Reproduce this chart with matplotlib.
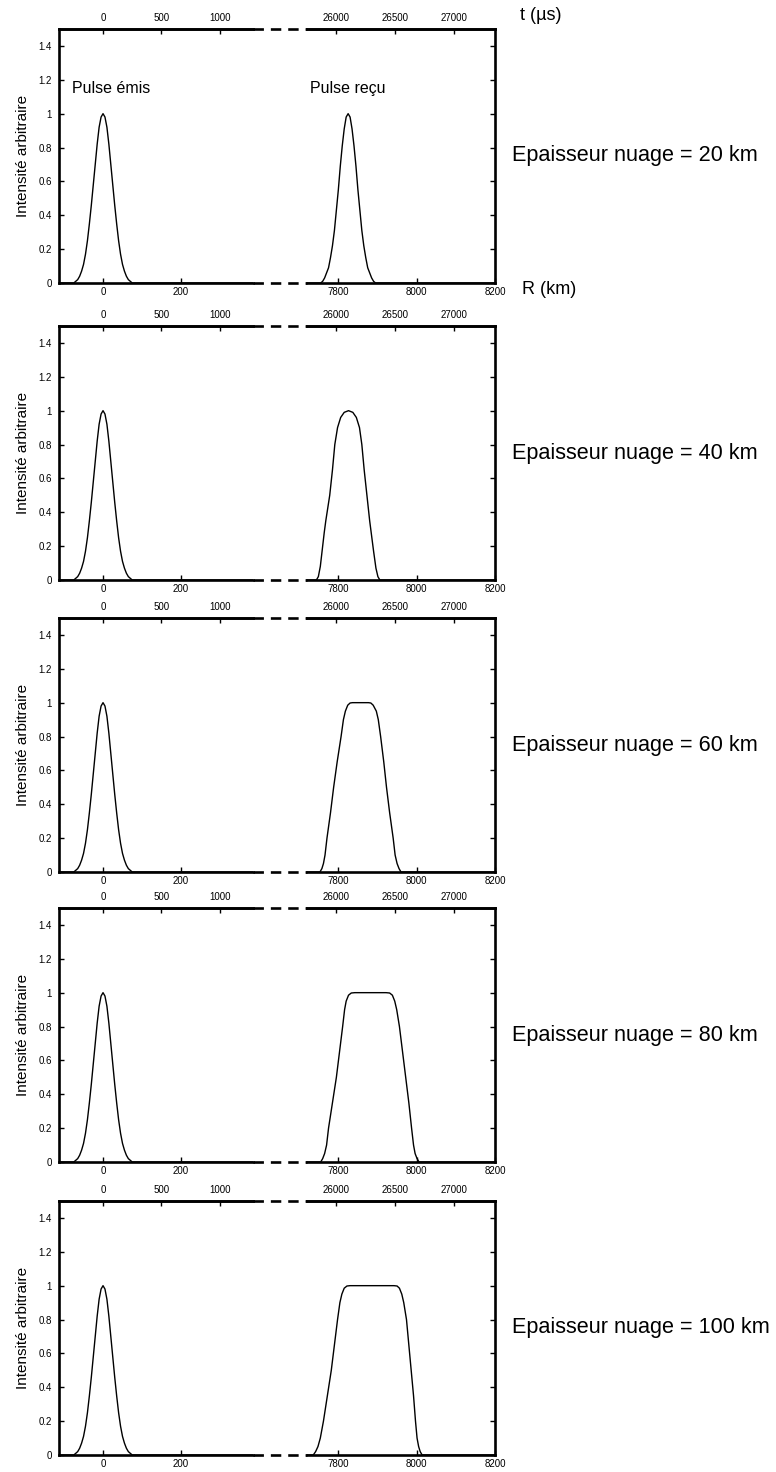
import numpy as np
import matplotlib
matplotlib.use("Agg")
from matplotlib import pyplot as plt
from matplotlib import font_manager
from matplotlib.lines import Line2D

plt.rcParams['font.family'] = ['Liberation Sans', 'DejaVu Sans']
plt.rcParams['lines.scale_dashes'] = False

# vitesse de la lumiere en km/us (axe du haut)
C_KM_US = 0.299792458

# pulse emis (R en km, intensite)
emis_r = [-113, -75, -70, -65, -60, -55, -50, -45, -40, -35, -30, -25, -20, -15, -10, -5, 0,
          5, 10, 15, 20, 25, 30, 35, 40, 45, 50, 55, 60, 65, 70, 75, 385]
emis_i = [0, 0, 0.01, 0.02, 0.04, 0.07, 0.11, 0.17, 0.25, 0.35, 0.46, 0.58, 0.70, 0.82, 0.92, 0.98, 1.0,
          0.98, 0.92, 0.82, 0.70, 0.58, 0.46, 0.35, 0.25, 0.17, 0.11, 0.07, 0.04, 0.02, 0.01, 0, 0]

# pulses recus
recu_r_20 = [7720, 7755, 7760, 7765, 7770, 7775, 7780, 7785, 7790, 7795, 7800, 7805, 7810, 7815, 7820, 7825,
             7830, 7835, 7840, 7845, 7850, 7855, 7860, 7865, 7870, 7875, 7880, 7885, 7890, 7895, 8200]
recu_i_20 = [0, 0, 0.01, 0.03, 0.06, 0.09, 0.15, 0.22, 0.31, 0.43, 0.55, 0.69, 0.81, 0.91, 0.98, 1.0,
             0.98, 0.91, 0.81, 0.69, 0.55, 0.43, 0.31, 0.22, 0.15, 0.09, 0.06, 0.03, 0.01, 0, 0]

recu_r_40 = [7720, 7744, 7749, 7754, 7759, 7764, 7768, 7778, 7785, 7791, 7798, 7806, 7815, 7826,
             7837, 7846, 7854, 7860, 7866, 7873, 7880, 7885, 7890, 7896, 7901, 7906, 8200]
recu_i_40 = [0, 0, 0.02, 0.08, 0.18, 0.28, 0.35, 0.5, 0.65, 0.8, 0.9, 0.96, 0.99, 1.0,
             0.99, 0.96, 0.9, 0.8, 0.65, 0.5, 0.35, 0.26, 0.17, 0.07, 0.02, 0, 0]

recu_r_60 = [7720, 7753, 7758, 7762, 7766, 7771, 7780, 7788, 7797, 7807, 7813, 7818, 7824, 7830, 7836,
             7877, 7883, 7889, 7897, 7902, 7908, 7916, 7923, 7931, 7940, 7945, 7950, 7955, 7960, 8200]
recu_i_60 = [0, 0, 0.02, 0.05, 0.1, 0.2, 0.35, 0.5, 0.65, 0.8, 0.9, 0.95, 0.985, 0.998, 1.0,
             1.0, 0.998, 0.985, 0.95, 0.9, 0.8, 0.65, 0.5, 0.35, 0.2, 0.1, 0.05, 0.02, 0, 0]

recu_r_80 = [7720, 7755, 7760, 7765, 7770, 7775, 7785, 7795, 7803, 7811, 7816, 7820, 7826, 7833, 7842,
             7922, 7931, 7938, 7944, 7949, 7956, 7964, 7972, 7980, 7987, 7992, 7996, 8001, 8006, 8200]
recu_i_80 = [0, 0, 0.02, 0.05, 0.1, 0.2, 0.35, 0.5, 0.65, 0.8, 0.9, 0.95, 0.985, 0.998, 1.0,
             1.0, 0.998, 0.985, 0.95, 0.9, 0.8, 0.65, 0.5, 0.35, 0.2, 0.1, 0.05, 0.02, 0, 0]

recu_r_100 = [7720, 7736, 7742, 7748, 7754, 7762, 7772, 7782, 7790, 7798, 7804, 7809, 7815, 7822, 7830,
              7942, 7950, 7956, 7962, 7967, 7974, 7980, 7986, 7992, 7997, 8001, 8005, 8009, 8014, 8200]
recu_i_100 = [0, 0, 0.02, 0.05, 0.1, 0.2, 0.35, 0.5, 0.65, 0.8, 0.9, 0.95, 0.985, 0.998, 1.0,
              1.0, 0.998, 0.985, 0.95, 0.9, 0.8, 0.65, 0.5, 0.35, 0.2, 0.1, 0.05, 0.02, 0, 0]

epaisseurs = [20, 40, 60, 80, 100]
recus = [(recu_r_20, recu_i_20), (recu_r_40, recu_i_40), (recu_r_60, recu_i_60),
         (recu_r_80, recu_i_80), (recu_r_100, recu_i_100)]

y_ticks = [0, 0.2, 0.4, 0.6, 0.8, 1.0, 1.2, 1.4]
y_labels = ['0', '0.2', '0.4', '0.6', '0.8', '1', '1.2', '1.4']
r_ticks_gauche = [0, 200]
r_ticks_droite = [7800, 8000, 8200]
t_ticks_gauche = [0, 500, 1000]
t_ticks_droite = [26000, 26500, 27000]

# police etroite pour le label vertical si dispo
noms = {f.name for f in font_manager.fontManager.ttflist}
if 'Liberation Sans Narrow' in noms:
    ylab_font, ylab_size = 'Liberation Sans Narrow', 13
else:
    ylab_font, ylab_size = 'Liberation Sans', 11

W, H = 776, 1472
fig = plt.figure(figsize=(W / 100, H / 100), dpi=100)

x_g0, x_g1 = 59, 253
x_d0, x_d1 = 307, 495
bas = [283, 580, 872, 1162, 1455]
haut = 254
lw_spine = 1.9
tick_fs = 7


def r_to_t(r):
    return np.asarray(r) / C_KM_US


def t_to_r(t):
    return np.asarray(t) * C_KM_US


def style_axes(ax):
    for s in ax.spines.values():
        s.set_linewidth(lw_spine)
    ax.tick_params(direction='in', length=3.5, width=1, labelsize=tick_fs)


for k in range(5):
    yb = (H - bas[k]) / H
    hh = haut / H
    axg = fig.add_axes([x_g0 / W, yb, (x_g1 - x_g0) / W, hh])
    axd = fig.add_axes([x_d0 / W, yb, (x_d1 - x_d0) / W, hh])

    axg.plot(emis_r, emis_i, color='black', lw=1.0)
    rr, ii = recus[k]
    axd.plot(rr, ii, color='black', lw=1.0)

    axg.set_xlim(-113, 385)
    axd.set_xlim(7720, 8200)
    for ax in (axg, axd):
        ax.set_ylim(0, 1.5)
        style_axes(ax)
        ax.tick_params(axis='x', pad=3)
        ax.tick_params(top=False)

    axg.spines['right'].set_visible(False)
    axd.spines['left'].set_visible(False)
    axg.set_yticks(y_ticks)
    axg.set_yticklabels(y_labels)
    axg.tick_params(axis='y', pad=5)
    axd.yaxis.tick_right()
    axd.set_yticks(y_ticks)
    axd.tick_params(axis='y', labelright=False, direction='in')
    axg.set_xticks(r_ticks_gauche)
    axd.set_xticks(r_ticks_droite)

    for ax, tt in ((axg, t_ticks_gauche), (axd, t_ticks_droite)):
        sec = ax.secondary_xaxis('top', functions=(r_to_t, t_to_r))
        sec.set_xticks(tt)
        sec.tick_params(direction='in', length=3.5, width=1, labelsize=tick_fs, pad=4)
        sec.spines['top'].set_linewidth(lw_spine)

    axg.set_ylabel('Intensité arbitraire', family=[ylab_font, 'DejaVu Sans'],
                   fontsize=ylab_size, labelpad=6)

    # coupure en pointilles entre les deux morceaux
    for py in (bas[k], bas[k] - haut):
        fig.add_artist(Line2D([x_g1 / W, x_d0 / W], [(H - py) / H] * 2,
                              color='black', lw=lw_spine, dashes=(7.5, 5)))

    fig.text(512 / W, (H - (bas[k] - haut / 2)) / H, f'Epaisseur nuage = {epaisseurs[k]} km',
             fontsize=15.6, ha='left', va='center')

    if k == 0:
        axg.text(-80, 1.15, 'Pulse émis', fontsize=11.5, ha='left', va='center')
        axd.text(7728, 1.15, 'Pulse reçu', fontsize=11.5, ha='left', va='center')
        fig.text(520 / W, (H - 15) / H, 't (µs)', fontsize=13, ha='left', va='center')
        fig.text(522 / W, (H - 290) / H, 'R (km)', fontsize=13, ha='left', va='center')

fig.savefig('out.png', dpi=100)
